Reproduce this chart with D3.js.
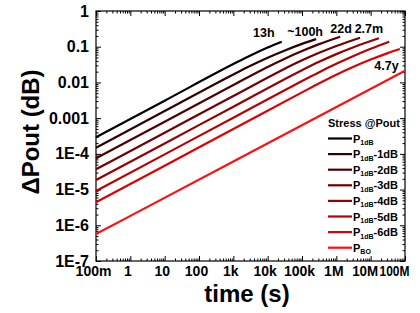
<!DOCTYPE html>
<html><head><meta charset="utf-8">
<script src="https://cdn.jsdelivr.net/npm/d3@7"></script>
<style>
body{margin:0;background:#fff;}
svg{display:block;font-family:"Liberation Sans",Arial,sans-serif;font-weight:bold;}
</style></head>
<body><svg id="c" width="420" height="313"></svg>
<script>
// ---- data ----
const xTickValues = [0.1, 1, 10, 100, 1e3, 1e4, 1e5, 1e6, 1e7, 1e8];
const xTickLabels = ["100m", "1", "10", "100", "1k", "10k", "100k", "1M", "10M", "100M"];
const yTickValues = [1, 0.1, 0.01, 0.001, 1e-4, 1e-5, 1e-6, 1e-7];
const yTickLabels = ["1", "0.1", "0.01", "0.001", "1E-4", "1E-5", "1E-6", "1E-7"];

const seriesNames = ["P1dB", "P1dB-1dB", "P1dB-2dB", "P1dB-3dB", "P1dB-4dB", "P1dB-5dB", "P1dB-6dB", "PBO"];
const colors = ["#000000", "#2e0000", "#4e0000", "#720000", "#960000", "#bb0000", "#e00000", "#ff1010"];

const t_1dB  = [0.1, 10, 1000, 3162, 10000, 25700];
const v_1dB  = [2.90e-4, 3.08e-3, 0.0327, 0.0570, 0.0947, 0.138];
const t_m1   = [0.1, 10, 1000, 3162, 10000, 31623, 1e5, 2.57e5];
const v_m1   = [1.49e-4, 1.58e-3, 0.01675, 0.0293, 0.0491, 0.0785, 0.120, 0.164];
const t_m2   = [0.1, 10, 1000, 10000, 31623, 1e5, 3.16e5, 1.29e6];
const v_m2   = [7.50e-5, 7.96e-4, 8.45e-3, 0.0272, 0.0463, 0.0755, 0.118, 0.191];
const t_m3   = [0.1, 10, 1000, 31623, 1e5, 3.16e5, 1e6, 4.9e6];
const v_m3   = [3.69e-5, 3.92e-4, 4.16e-3, 0.0242, 0.0415, 0.0676, 0.105, 0.179];
const t_m4   = [0.1, 10, 1000, 1e5, 3.16e5, 1e6, 3.16e6, 1.74e7];
const v_m4   = [1.85e-5, 1.96e-4, 2.08e-3, 0.0220, 0.0378, 0.0620, 0.0969, 0.172];
const t_m5   = [0.1, 10, 1000, 1e5, 3.16e5, 1e6, 3.16e6, 1e7, 3.47e7];
const v_m5   = [9.12e-6, 9.68e-5, 1.03e-3, 0.0109, 0.0194, 0.0332, 0.0549, 0.0873, 0.138];
const t_m6   = [0.1, 10, 1000, 1e5, 3.16e5, 1e6, 3.16e6, 1e7, 3.16e7, 7.08e7];
const v_m6   = [4.40e-6, 4.67e-5, 4.95e-4, 5.26e-3, 9.47e-3, 0.0165, 0.0274, 0.0436, 0.0662, 0.0863];
const t_bo   = [0.1, 1000, 1e8];
const v_bo   = [5.69e-7, 6.12e-5, 0.0212];

const seriesT = [t_1dB, t_m1, t_m2, t_m3, t_m4, t_m5, t_m6, t_bo];
const seriesV = [v_1dB, v_m1, v_m2, v_m3, v_m4, v_m5, v_m6, v_bo];

const annotText = ["13h", "~100h", "22d", "2.7m", "4.7y"];
const annotT    = [7760, 1.23e5, 1.38e6, 8.9e6, 2.9e7];
const annotV    = [0.186, 0.2, 0.242, 0.242, 0.0223];

// ---- layout ----
const svg = d3.select("#c");
const L = 96, R = 405, T = 11, B = 261;
const x = d3.scaleLog().domain([0.1, 1e8]).range([L, R]);
const y = d3.scaleLog().domain([1e-7, 1]).range([B, T]);

function minors(lo, hi) {
  const out = [];
  for (let e = lo; e < hi; e++) for (let k = 2; k <= 9; k++) out.push(k * Math.pow(10, e));
  return out;
}
const xMinor = minors(-1, 8);
const yMinor = minors(-7, 0);

function axisG(gen, tx, ty) {
  const g = svg.append("g").attr("transform", `translate(${tx},${ty})`).call(gen);
  g.select(".domain").remove();
  g.selectAll("line").attr("stroke", "#000").attr("stroke-width", 1);
  return g;
}
const FF = "Liberation Sans, Arial, sans-serif";
// major/minor ticks all four sides, pointing inward
const yl = axisG(d3.axisLeft(y).tickValues(yTickValues).tickFormat((d, i) => yTickLabels[i]).tickSizeInner(-5).tickSizeOuter(0).tickPadding(7), L, 0);
yl.selectAll("text").attr("font-size", 16).attr("font-weight", "bold").attr("fill", "#000").attr("font-family", FF);
axisG(d3.axisLeft(y).tickValues(yMinor).tickFormat("").tickSizeInner(-2.5).tickSizeOuter(0), L, 0);
axisG(d3.axisRight(y).tickValues(yTickValues).tickFormat("").tickSizeInner(-5).tickSizeOuter(0), R, 0);
axisG(d3.axisRight(y).tickValues(yMinor).tickFormat("").tickSizeInner(-2.5).tickSizeOuter(0), R, 0);

const xb = axisG(d3.axisBottom(x).tickValues(xTickValues).tickFormat((d, i) => xTickLabels[i]).tickSizeInner(-5).tickSizeOuter(0).tickPadding(5.5), 0, B);
xb.selectAll("text").attr("font-size", 14).attr("font-weight", "bold").attr("fill", "#000").attr("font-family", FF).attr("dx", -3);
const nX = xTickValues.length;
xb.selectAll("text").filter((d, i) => i === nX - 2).attr("dx", -6).attr("textLength", 26).attr("lengthAdjust", "spacingAndGlyphs");
xb.selectAll("text").filter((d, i) => i === nX - 1).attr("text-anchor", "end").attr("dx", 4).attr("textLength", 30).attr("lengthAdjust", "spacingAndGlyphs");
axisG(d3.axisBottom(x).tickValues(xMinor).tickFormat("").tickSizeInner(-2.5).tickSizeOuter(0), 0, B);
axisG(d3.axisTop(x).tickValues(xTickValues).tickFormat("").tickSizeInner(-5).tickSizeOuter(0), 0, T);
axisG(d3.axisTop(x).tickValues(xMinor).tickFormat("").tickSizeInner(-2.5).tickSizeOuter(0), 0, T);

svg.append("rect").attr("x", L).attr("y", T).attr("width", R - L).attr("height", B - T)
  .attr("fill", "none").attr("stroke", "#000").attr("stroke-width", 1.2);

// ---- lines ----
const line = d3.line().x(d => x(d[0])).y(d => y(d[1])).curve(d3.curveMonotoneX);
seriesT.forEach((ts, i) => {
  const pts = ts.map((t, j) => [t, seriesV[i][j]]);
  svg.append("path").datum(pts).attr("d", line).attr("fill", "none")
    .attr("stroke", colors[i]).attr("stroke-width", 2.2).attr("stroke-linecap", "butt");
});

// ---- annotations ----
annotText.forEach((s, i) => {
  svg.append("text").attr("x", x(annotT[i])).attr("y", y(annotV[i])).attr("text-anchor", "middle")
    .attr("font-size", 12.5).attr("fill", "#000").text(s);
});

// ---- axis titles ----
svg.append("text").attr("x", 247).attr("y", 302).attr("text-anchor", "middle")
  .attr("font-size", 24).attr("fill", "#000").text("time (s)");
svg.append("text").attr("transform", "translate(39,132) rotate(-90)").attr("text-anchor", "middle")
  .attr("font-size", 24).attr("fill", "#000").text("\u0394Pout (dB)");

// ---- legend ----
const legX = 328, legY0 = 138.5, legDY = 15.6;
svg.append("text").attr("x", legX).attr("y", 127).attr("font-size", 11).attr("fill", "#000").text("Stress @Pout");
seriesNames.forEach((n, i) => {
  const yy = legY0 + i * legDY;
  svg.append("line").attr("x1", legX).attr("x2", legX + 24).attr("y1", yy).attr("y2", yy)
    .attr("stroke", colors[i]).attr("stroke-width", 2.2);
  const t = svg.append("text").attr("x", legX + 25).attr("y", yy + 4).attr("font-size", 11).attr("fill", "#000");
  t.append("tspan").text("P");
  if (n === "PBO") {
    t.append("tspan").attr("font-size", 7).attr("dy", 2.5).text("BO");
  } else {
    t.append("tspan").attr("font-size", 7).attr("dy", 2.5).text("1dB");
    const rest = n.slice(4);
    if (rest) t.append("tspan").attr("font-size", 11).attr("dy", -2.5).text(rest);
  }
});
</script></body></html>
